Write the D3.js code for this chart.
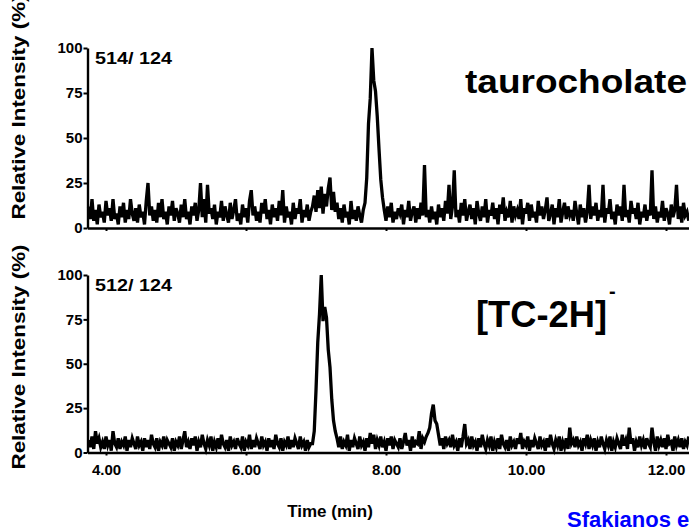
<!DOCTYPE html>
<html>
<head>
<meta charset="utf-8">
<script src="https://cdn.jsdelivr.net/npm/d3@7"></script>
<style>
  html, body { margin: 0; padding: 0; background: #fff; }
  svg { display: block; }
  text { font-family: "Liberation Sans", Arial, Helvetica, sans-serif; font-weight: bold; }
</style>
</head>
<body>
<svg id="chart" width="689" height="529"></svg>
<script>
// Sampling grid of both traces (minutes)
const timeStart = 3.75;
const timeStep = 0.025;

// Time axis ticks and labels
const timeTicks = [4, 6, 8, 10, 12];
const intensityTicks = [0, 25, 50, 75, 100];

// m/z 514 -> 124 transition (taurocholate), relative intensity %
const trace514 = [
  12, 5, 16, 4, 10, 2, 13, 6,
  9, 3, 15, 7, 11, 4, 16, 5, 8, 2,
  12, 6, 14, 3, 10, 5, 16, 8, 4, 11,
  3, 13, 6, 9, 2, 15, 25, 7, 12, 4,
  10, 3, 14, 6, 16, 5, 9, 2, 12, 7,
  15, 4, 11, 8, 3, 13, 6, 16, 5, 9,
  2, 12, 7, 14, 4, 10, 25, 6, 16, 3,
  24, 8, 11, 5, 13, 2, 9, 6, 15, 4,
  12, 7, 3, 14, 5, 10, 16, 4, 8, 2,
  13, 6, 11, 3, 15, 21, 7, 12, 4, 9,
  3, 14, 8, 16, 5, 10, 2, 13, 6, 11,
  4, 15, 7, 21, 3, 12, 6, 9, 2, 14,
  5, 11, 8, 16, 3, 10, 6, 13, 4, 9,
  12, 18, 9, 21, 11, 23, 8, 19, 12, 22,
  28, 10, 20, 9, 14, 5, 11, 3, 13, 6,
  9, 2, 15, 5, 10, 4, 12, 7, 3, 10,
  14, 28, 58, 72, 100, 82, 76, 62, 44, 27,
  17, 10, 4, 12, 6, 14, 3, 9, 5, 11,
  8, 13, 2, 10, 6, 15, 4, 9, 12, 3,
  11, 5, 14, 7, 35, 6, 10, 3, 12, 5,
  9, 2, 13, 6, 11, 4, 15, 8, 24, 5,
  12, 32, 6, 10, 3, 14, 7, 16, 4, 9,
  13, 5, 11, 2, 15, 8, 4, 12, 6, 16,
  3, 10, 7, 14, 5, 11, 2, 13, 8, 17,
  4, 9, 6, 15, 3, 12, 7, 10, 5, 16,
  2, 11, 8, 14, 4, 13, 6, 9, 3, 15,
  7, 12, 5, 10, 17, 4, 8, 13, 2, 11,
  6, 16, 3, 9, 14, 5, 12, 7, 10, 4,
  15, 8, 2, 13, 6, 11, 3, 9, 24, 5,
  12, 7, 14, 4, 10, 6, 24, 3, 11, 8,
  16, 5, 9, 2, 13, 7, 12, 4, 24, 6,
  10, 3, 15, 8, 11, 5, 14, 2, 9, 6,
  13, 4, 10, 7, 32, 5, 12, 3, 9, 6,
  15, 4, 11, 8, 2, 13, 6, 10, 24, 5,
  12, 3, 14, 7, 9, 4
];

// m/z 512 -> 124 transition ([TC-2H]-), relative intensity %
const trace512 = [
  7, 3, 9, 2, 12, 5, 8, 3,
  6, 2, 9, 4, 7, 1, 12, 5, 3, 8,
  2, 6, 4, 9, 1, 7, 3, 8, 5, 2,
  9, 4, 6, 1, 8, 3, 7, 2, 10, 5,
  3, 8, 1, 6, 4, 9, 2, 7, 5, 3,
  8, 1, 6, 4, 9, 2, 7, 12, 3, 6,
  2, 8, 4, 9, 1, 6, 3, 10, 5, 2,
  7, 4, 9, 1, 6, 3, 8, 2, 10, 5,
  3, 7, 1, 9, 4, 6, 2, 8, 5, 3,
  9, 1, 6, 4, 10, 2, 7, 3, 8, 5,
  2, 9, 4, 6, 1, 8, 3, 7, 2, 10,
  5, 3, 8, 1, 6, 4, 9, 2, 7, 3,
  8, 5, 2, 9, 4, 6, 1, 7, 3, 5,
  5, 12, 35, 62, 78, 100, 74, 82, 76, 58,
  48, 30, 18, 12, 8, 3, 9, 2, 6, 4,
  10, 1, 7, 3, 8, 5, 2, 9, 4, 6,
  1, 8, 3, 11, 5, 10, 2, 7, 4, 9,
  3, 6, 1, 8, 4, 9, 2, 7, 5, 3,
  8, 2, 6, 11, 4, 7, 1, 9, 3, 6,
  5, 12, 2, 8, 6, 9, 11, 14, 22, 27,
  18, 16, 10, 4, 8, 2, 9, 5, 7, 3,
  10, 4, 6, 1, 8, 3, 9, 16, 5, 7,
  2, 9, 4, 6, 1, 8, 3, 10, 5, 2,
  7, 4, 9, 1, 6, 3, 8, 2, 10, 5,
  3, 7, 1, 9, 4, 6, 2, 8, 5, 11,
  2, 6, 4, 9, 1, 7, 3, 8, 5, 2,
  9, 4, 6, 1, 8, 3, 10, 5, 2, 7,
  4, 9, 1, 6, 3, 8, 2, 14, 5, 7,
  3, 9, 4, 6, 1, 8, 5, 10, 2, 7,
  4, 8, 1, 6, 3, 9, 5, 2, 7, 4,
  9, 1, 6, 3, 8, 5, 2, 10, 4, 7,
  2, 14, 5, 8, 1, 6, 3, 9, 4, 7,
  2, 8, 5, 3, 14, 6, 1, 9, 4, 7,
  3, 8, 2, 10, 5, 6, 1, 9, 4, 7,
  3, 8, 2, 6, 4, 9
];

const svg = d3.select("#chart");

// Horizontal time scale: 4.00 min at x=106, 70 px per minute
const axisX = 87.5;
const x0 = d3.scaleLinear().domain([4, 12]).range([106, 106 + 8 * 70]);
const x = d3.scaleLinear().domain([x0.invert(axisX), x0.invert(689)]).range([axisX, 689]);

const panels = [
  { values: trace514, top: 48, bottom: 228, transition: "514/ 124", showLabels: false, titleCenter: 107 },
  { values: trace512, top: 275, bottom: 452.5, transition: "512/ 124", showLabels: true, titleCenter: 357 }
];

panels.forEach(p => {
  const y = d3.scaleLinear().domain([0, 100]).range([p.bottom, p.top]);
  const g = svg.append("g");

  // chromatogram trace
  const pts = p.values.map((v, i) => ({ t: timeStart + i * timeStep, v }));
  const line = d3.line().x(d => x(d.t)).y(d => y(d.v));
  g.append("path")
    .datum(pts)
    .attr("d", line)
    .attr("fill", "none")
    .attr("stroke", "#000")
    .attr("stroke-width", 3.3)
    .attr("stroke-linejoin", "miter");

  // intensity axis
  const yAxis = d3.axisLeft(y).tickValues(intensityTicks).tickSize(4).tickSizeOuter(0).tickPadding(1);
  const ya = g.append("g").attr("transform", `translate(${axisX},0)`).call(yAxis);
  ya.select(".domain").attr("stroke", "#000").attr("stroke-width", 2.4);
  ya.selectAll(".tick line").attr("stroke", "#000").attr("stroke-width", 2);
  ya.selectAll(".tick text")
    .attr("fill", "#000")
    .style("font-size", "15px")
    .style("font-family", "'Liberation Sans', Arial, sans-serif")
    .style("font-weight", "bold");

  // time axis
  const xAxis = d3.axisBottom(x).tickValues(timeTicks).tickSize(3).tickSizeOuter(0).tickPadding(9)
    .tickFormat(d => p.showLabels ? d3.format(".2f")(d) : "");
  const xa = g.append("g").attr("transform", `translate(0,${p.bottom})`).call(xAxis);
  xa.select(".domain").attr("stroke", "#000").attr("stroke-width", 2.4);
  xa.selectAll(".tick line").attr("stroke", "#000").attr("stroke-width", 2);
  xa.selectAll(".tick text")
    .attr("fill", "#000")
    .style("font-size", "15px")
    .style("font-family", "'Liberation Sans', Arial, sans-serif")
    .style("font-weight", "bold");

  // transition label
  g.append("text")
    .attr("x", 95).attr("y", p.top + 16)
    .attr("textLength", 77).attr("lengthAdjust", "spacingAndGlyphs")
    .style("font-size", "17px")
    .text(p.transition);

  // vertical axis title
  g.append("text")
    .attr("transform", `translate(25,${p.titleCenter}) rotate(-90)`)
    .attr("text-anchor", "middle")
    .attr("textLength", 225).attr("lengthAdjust", "spacingAndGlyphs")
    .style("font-size", "18px")
    .text("Relative Intensity (%)");
});

// compound names
svg.append("text")
  .attr("x", 465).attr("y", 93)
  .attr("textLength", 222).attr("lengthAdjust", "spacingAndGlyphs")
  .style("font-size", "34px")
  .text("taurocholate");

svg.append("text")
  .attr("x", 476).attr("y", 327)
  .attr("textLength", 131).attr("lengthAdjust", "spacingAndGlyphs")
  .style("font-size", "36px")
  .text("[TC-2H]");

svg.append("text")
  .attr("x", 609).attr("y", 298)
  .style("font-size", "20px")
  .text("-");

// time axis title
svg.append("text")
  .attr("x", 330).attr("y", 517)
  .attr("text-anchor", "middle")
  .style("font-size", "17px")
  .text("Time (min)");

// source credit
svg.append("text")
  .attr("x", 567).attr("y", 527)
  .attr("fill", "#0000ff")
  .style("font-size", "22px")
  .text("Sfakianos et al.");
</script>
</body>
</html>
